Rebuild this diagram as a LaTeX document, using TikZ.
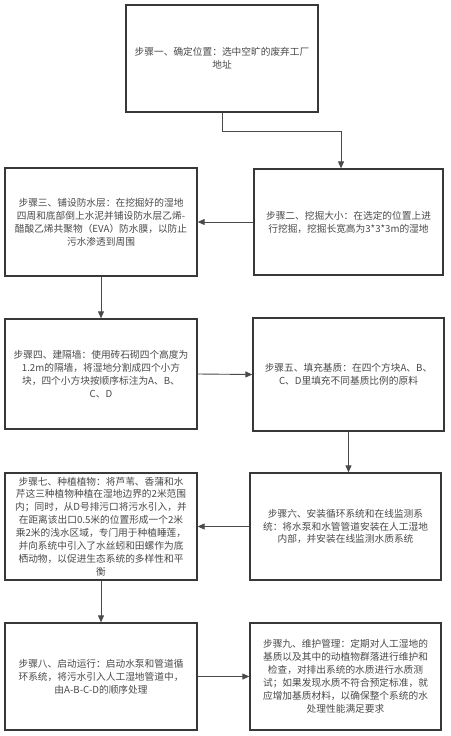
\documentclass[tikz,border=0pt]{standalone}
\usepackage{fontspec}
\newfontfamily\cjk{Noto Sans CJK SC}
\usetikzlibrary{arrows.meta}
\definecolor{boxline}{HTML}{383838}
\definecolor{txt}{HTML}{4A4A4A}
\definecolor{conn}{HTML}{4A4A4A}
\tikzset{
  stepbox/.style={draw=boxline, line width=1.3pt, fill=white, rectangle, inner sep=0pt,
    align=center, text=txt, font=\cjk\fontsize{9.7}{12.9}\selectfont},
  arr/.style={draw=conn, line width=0.9pt, -{Triangle[length=7pt,width=6pt]}}
}
\begin{document}
\begin{tikzpicture}[x=1pt,y=-1pt]
\useasboundingbox[fill=white] (0,0) rectangle (450,736);
\node[stepbox, minimum width=192pt, minimum height=107pt] (s1) at (222,58.5)
  {步骤一、确定位置：选中空旷的废弃工厂\\地址};
\node[stepbox, minimum width=189pt, minimum height=106pt] (s2) at (348.5,222)
  {步骤二、挖掘大小：在选定的位置上进\\行挖掘，挖掘长宽高为3*3*3m的湿地};
\node[stepbox, minimum width=192pt, minimum height=108pt] (s3) at (101,222)
  {步骤三、铺设防水层：在挖掘好的湿地\\四周和底部倒上水泥并铺设防水层乙烯-\\醋酸乙烯共聚物（EVA）防水膜，以防止\\污水渗透到周围};
\node[stepbox, minimum width=192pt, minimum height=110pt] (s4) at (101,374)
  {步骤四、建隔墙：使用砖石砌四个高度为\\1.2m的隔墙，将湿地分割成四个小方\\块，四个小方块按顺序标注为A、B、\\C、D};
\node[stepbox, minimum width=191pt, minimum height=113pt] (s5) at (348.5,374.5)
  {步骤五、填充基质：在四个方块A、B、\\C、D里填充不同基质比例的原料};
\node[stepbox, minimum width=191pt, minimum height=107pt] (s6) at (345.5,526.5)
  {步骤六、安装循环系统和在线监测系\\统：将水泵和水管管道安装在人工湿地\\内部，并安装在线监测水质系统};
\node[stepbox, minimum width=192pt, minimum height=107pt] (s7) at (101,526.5)
  {步骤七、种植植物：将芦苇、香蒲和水\\芹这三种植物种植在湿地边界的2米范围\\内；同时，从D号排污口将污水引入，并\\在距离该出口0.5米的位置形成一个2米\\乘2米的浅水区域，专门用于种植睡莲，\\并向系统中引入了水丝蚓和田螺作为底\\栖动物，以促进生态系统的多样性和平\\衡};
\node[stepbox, minimum width=192pt, minimum height=107pt] (s8) at (101,676.5)
  {步骤八、启动运行：启动水泵和管道循\\环系统，将污水引入人工湿地管道中，\\由A-B-C-D的顺序处理};
\node[stepbox, minimum width=191pt, minimum height=107pt] (s9) at (345.5,676.5)
  {步骤九、维护管理：定期对人工湿地的\\基质以及其中的动植物群落进行维护和\\检查，对排出系统的水质进行水质测\\试；如果发现水质不符合预定标准，就\\应增加基质材料，以确保整个系统的水\\处理性能满足要求};
\coordinate (c12) at (341,131);
\draw[arr] (s1.south) |- (c12) -- (c12 |- s2.north);
\draw[arr] (s2.west) -- (s3.east);
\draw[arr] (s3.south) -- (s4.north);
\draw[arr] (s4.east) -- (s5.west);
\draw[arr] (s5.south) -- (s5.south |- s6.north);
\draw[arr] (s6.west) -- (s7.east);
\draw[arr] (s7.south) -- (s8.north);
\draw[arr] (s8.east) -- (s9.west);
\end{tikzpicture}
\end{document}
